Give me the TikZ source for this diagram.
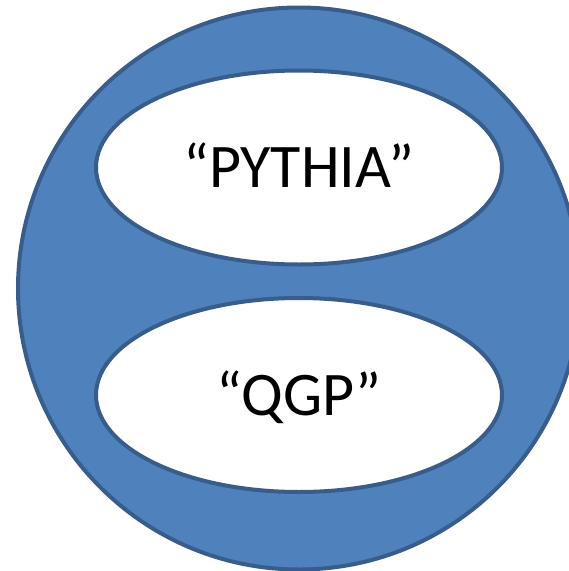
\documentclass[tikz,border=0pt]{standalone}
\usepackage{fontspec}
\setmainfont{Carlito}
\usetikzlibrary{shapes.geometric}

\definecolor{ringfill}{HTML}{4F81BD}
\definecolor{ringline}{HTML}{385D8A}

\begin{document}
\begin{tikzpicture}[
    x=1pt, y=-1pt,
    outer/.style={
        circle, draw=ringline, fill=ringfill,
        line width=4pt,
        minimum size=562pt, inner sep=0pt
    },
    model/.style={
        ellipse, draw=ringline, fill=white,
        line width=4pt,
        minimum width=406pt, minimum height=194pt,
        inner sep=0pt,
        font=\fontsize{62}{70}\selectfont,
        text height=40pt, text depth=0pt
    }
]
\useasboundingbox (0,0) rectangle (569,571);
\clip (0,0) rectangle (569,571);

\node[outer] (rim) at (299,288.5) {};
\node[model] (pythia) at (299,167.5) {“PYTHIA”};
\node[model] (qgp) at (299,395) {“QGP”};

\end{tikzpicture}
\end{document}
